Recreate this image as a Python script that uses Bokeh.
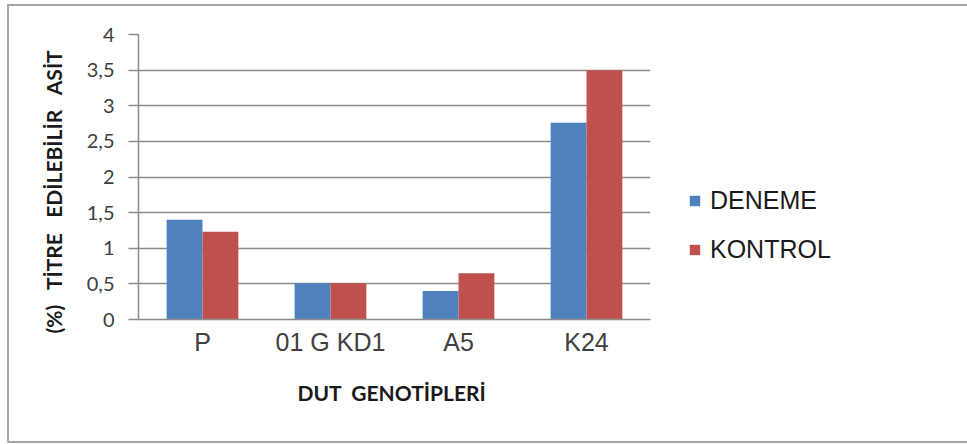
from bokeh.plotting import figure
from bokeh.models import (FactorRange, Range1d, FixedTicker, CustomJSTickFormatter,
                          Legend, LegendItem, Title, ColumnDataSource)
from bokeh.transform import dodge
from bokeh.embed import file_html
from bokeh.resources import INLINE

categories = ["P", "01 G KD1", "A5", "K24"]
deneme = [1.40, 0.51, 0.40, 2.76]
kontrol = [1.23, 0.51, 0.65, 3.50]
series_names = ["DENEME", "KONTROL"]
y_ticks = [0, 0.5, 1, 1.5, 2, 2.5, 3, 3.5, 4]
NB = "\u00a0"
y_title = "(%)" + NB * 3 + "TİTRE" + NB * 3 + "EDİLEBİLİR" + NB * 3 + "ASİT"
x_title = "DUT" + NB * 2 + "GENOTİPLERİ"

BLUE = "#4F81BD"
RED = "#C0504D"
GRID = "#8c8c8c"

p = figure(x_range=FactorRange(*categories, range_padding=0), y_range=Range1d(0, 4),
           frame_width=512, frame_height=285, output_backend="svg", toolbar_location=None,
           min_border_left=129, min_border_right=315, min_border_top=28, min_border_bottom=122)
p.styles = {"border": "2px solid #a6a6a6", "border-right": "none",
            "margin-left": "7px", "margin-top": "4px"}
p.outline_line_color = None
p.background_fill_color = "white"
p.border_fill_color = "white"

src = ColumnDataSource(dict(cat=categories, deneme=deneme, kontrol=kontrol))
r1 = p.vbar(x=dodge("cat", -0.14, range=p.x_range), top="deneme", width=0.28, bottom=0,
            source=src, fill_color=BLUE, line_color=None)
r2 = p.vbar(x=dodge("cat", 0.14, range=p.x_range), top="kontrol", width=0.28, bottom=0,
            source=src, fill_color=RED, line_color=None)

p.xgrid.grid_line_color = None
p.ygrid.grid_line_color = GRID
p.ygrid.grid_line_width = 1.5
p.ygrid.ticker = FixedTicker(ticks=y_ticks)

ya = p.yaxis[0]
ya.ticker = FixedTicker(ticks=y_ticks)
ya.formatter = CustomJSTickFormatter(code="return tick.toString().replace('.', ',');")
ya.axis_line_color = GRID
ya.axis_line_width = 1.5
ya.major_tick_line_color = GRID
ya.major_tick_line_width = 1.5
ya.major_tick_out = 10
ya.major_tick_in = 0
ya.minor_tick_line_color = None
ya.major_label_standoff = 14
ya.major_label_text_font = "Lato"
ya.major_label_text_font_size = "20px"
ya.major_label_text_color = "#404040"

xa = p.xaxis[0]
xa.axis_line_color = GRID
xa.axis_line_width = 1.5
xa.major_tick_line_color = None
xa.minor_tick_line_color = None
xa.major_label_standoff = 2
xa.major_label_text_font = "Liberation Sans"
xa.major_label_text_font_size = "25px"
xa.major_label_text_color = "#404040"

p.add_layout(Title(text=y_title, align="left", offset=-14, standoff=35,
                   text_font="Lato", text_font_style="bold", text_font_size="21px",
                   text_color="#1a1a1a"), "left")
p.add_layout(Title(text=x_title, align="left", offset=159, standoff=38,
                   text_font="Lato", text_font_style="bold", text_font_size="21px",
                   text_color="#1a1a1a"), "below")

legend = Legend(items=[LegendItem(label=series_names[0], renderers=[r1]),
                       LegendItem(label=series_names[1], renderers=[r2])],
                location=(38, 55.4), orientation="vertical",
                padding=0, margin=0, border_line_color=None, background_fill_alpha=0,
                glyph_width=13, glyph_height=13, label_height=24, spacing=20,
                label_standoff=9, label_text_font="Liberation Sans",
                label_text_font_size="25px", label_text_color="#1a1a1a")
p.add_layout(legend, "right")

open("out.html", "w").write(file_html(p, INLINE))
